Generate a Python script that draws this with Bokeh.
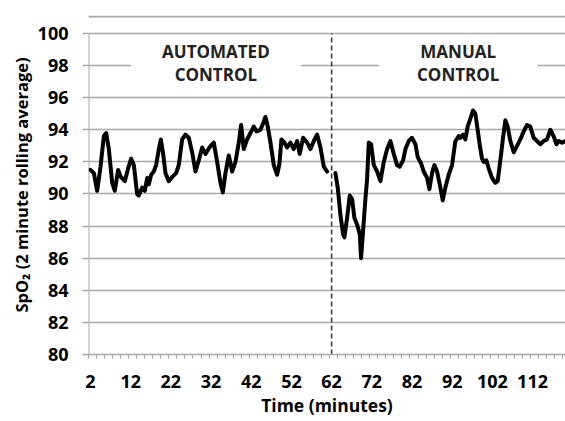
import numpy as np
from bokeh.plotting import figure
from bokeh.models import FixedTicker, Label, Span, Range1d
from bokeh.embed import file_html
from bokeh.resources import INLINE

# ---- data ----
# automated control phase
auto_time = [
    2.0, 2.83, 3.66, 4.49, 5.32, 5.90, 6.56, 7.39, 8.05, 8.88, 9.46, 10.54,
    11.37, 12.11, 12.78, 13.60, 14.02, 14.85, 15.51, 16.10, 16.51, 17.09,
    17.75, 18.33, 19.00, 19.50, 20.07, 20.66, 21.48, 22.48, 23.31, 23.97,
    24.80, 25.63, 26.46, 27.29, 28.12, 28.95, 29.78, 30.61, 31.60, 32.68,
    33.51, 34.34, 34.92, 35.58, 36.41, 37.24, 38.07, 38.90, 39.48, 40.14,
    40.97, 41.80, 42.63, 43.29, 44.29, 45.12, 45.53, 46.11, 46.78, 47.61,
    48.44, 49.02, 49.51, 50.26, 50.92, 51.75, 52.58, 53.41, 54.07, 54.90,
    55.90, 56.73, 57.56, 58.39, 59.22, 60.05, 60.88,
]
auto_spo2 = [
    91.5, 91.3, 90.2, 91.7, 93.6, 93.8, 92.8, 90.7, 90.2, 91.5, 91.1, 90.8,
    91.6, 92.2, 91.8, 90.0, 89.9, 90.4, 90.2, 91.0, 90.6, 91.2,
    91.4, 91.8, 92.8, 93.4, 92.5, 91.3, 90.8, 91.1, 91.3, 91.8,
    93.4, 93.7, 93.5, 92.6, 91.4, 92.1, 92.9, 92.5, 92.9, 93.2,
    92.0, 90.7, 90.1, 91.3, 92.4, 91.4, 92.0, 93.2, 94.3, 92.8,
    93.4, 93.8, 94.2, 93.9, 94.0, 94.5, 94.8, 94.2, 93.2, 91.8,
    91.2, 91.9, 93.4, 93.2, 92.9, 93.2, 92.8, 93.3, 92.5, 93.5,
    93.2, 92.8, 93.3, 93.7, 92.9, 91.7, 91.4,
]
# manual control phase
manual_time = [
    62.94, 63.52, 64.19, 64.85, 65.18, 65.85, 66.51, 67.09, 67.67, 68.34,
    69.00, 69.33, 69.83, 70.41, 70.82, 71.24, 71.82, 72.49, 73.32, 74.15,
    74.98, 75.81, 76.63, 77.46, 78.29, 78.96, 79.79, 80.37, 81.19, 82.02,
    82.85, 83.43, 84.26, 84.92, 85.75, 86.33, 86.99, 87.57, 88.24, 89.07,
    89.65, 90.31, 91.14, 91.97, 92.80, 93.63, 94.04, 94.70, 95.28, 95.86,
    96.52, 97.18, 97.76, 98.34, 98.84, 99.42, 99.84, 100.50, 101.08, 101.91,
    102.74, 103.32, 103.99, 104.65, 105.23, 105.81, 106.48, 107.31, 108.14,
    108.96, 109.79, 110.62, 111.45, 112.28, 113.11, 113.94, 114.77, 115.60,
    116.42, 117.25, 117.92, 118.50, 119.33, 120.16,
]
manual_spo2 = [
    91.3, 90.4, 88.7, 87.5, 87.3, 88.5, 89.9, 89.7, 88.5, 88.1,
    87.5, 86.0, 87.7, 89.7, 90.9, 93.2, 93.1, 91.8, 91.4, 90.8,
    92.0, 92.8, 93.3, 92.5, 91.8, 91.7, 92.1, 92.8, 93.3, 93.5,
    93.1, 92.3, 91.9, 91.4, 91.0, 90.3, 91.3, 91.8, 91.4, 90.4,
    89.6, 90.4, 91.2, 91.8, 93.3, 93.6, 93.5, 93.7, 93.4, 94.2,
    94.7, 95.2, 95.0, 94.0, 93.1, 92.2, 92.0, 92.1, 91.6, 91.0,
    90.7, 90.8, 92.1, 93.5, 94.6, 94.2, 93.3, 92.6, 93.0,
    93.4, 93.9, 94.3, 94.2, 93.5, 93.3, 93.1, 93.3, 93.4,
    94.0, 93.6, 93.1, 93.3, 93.2, 93.3,
]
x_tick_values = [2, 12, 22, 32, 42, 52, 62, 72, 82, 92, 102, 112]
x_tick_labels = ["2", "12", "22", "32", "42", "52", "62", "72", "82", "92", "102", "112"]
y_ticks = [80, 82, 84, 86, 88, 90, 92, 94, 96, 98, 100]
switch_minute = 62
phase_texts = ["AUTOMATED\nCONTROL", "MANUAL\nCONTROL"]
phase_x = [33.2, 93.5]
phase_pad = [31, 38]

# ---- layout / style ----
FONT = "Open Sans"
GRID = "#a8a8a8"
x_lo, x_hi = 1.5, 120.2
y_lo, y_hi = 80, 100
y_top = 101.12

p = figure(width=565, height=421, output_backend="svg", toolbar_location=None,
           x_range=Range1d(x_lo, x_hi), y_range=Range1d(y_lo, y_top),
           min_border_left=88, min_border_right=0, min_border_top=15,
           min_border_bottom=67)
p.outline_line_color = None
p.background_fill_color = "white"
p.border_fill_color = "white"

# grid
p.xgrid.visible = False
p.ygrid.ticker = FixedTicker(ticks=y_ticks)
p.ygrid.grid_line_color = GRID
p.ygrid.grid_line_width = 1.5

# x axis
p.xaxis.ticker = FixedTicker(ticks=x_tick_values,
                             minor_ticks=list(np.arange(x_lo, x_hi, 2.0)))
p.xaxis.major_label_overrides = {v: l for v, l in zip(x_tick_values, x_tick_labels)}
p.xaxis.major_tick_out = 0
p.xaxis.major_tick_in = 0
p.xaxis.minor_tick_out = 4
p.xaxis.minor_tick_in = 0
p.xaxis.minor_tick_line_color = GRID
p.xaxis.minor_tick_line_width = 1.2
p.xaxis.axis_line_color = GRID
p.xaxis.axis_line_width = 1.5
p.xaxis.major_label_standoff = 16
p.xaxis.major_label_text_font = FONT
p.xaxis.major_label_text_font_style = "bold"
p.xaxis.major_label_text_font_size = "18px"
p.xaxis.major_label_text_color = "black"
p.xaxis.axis_label = "Time (minutes)"
p.xaxis.axis_label_text_font = FONT
p.xaxis.axis_label_text_font_style = "bold"
p.xaxis.axis_label_text_font_size = "17.5px"
p.xaxis.axis_label_text_color = "black"
p.xaxis.axis_label_standoff = 2

# y axis
p.yaxis.ticker = FixedTicker(ticks=y_ticks, minor_ticks=[])
p.yaxis.major_tick_out = 6
p.yaxis.major_tick_in = 0
p.yaxis.major_tick_line_color = GRID
p.yaxis.major_tick_line_width = 1.5
p.yaxis.axis_line_color = None
p.yaxis.major_label_standoff = 14
p.yaxis.major_label_text_font = FONT
p.yaxis.major_label_text_font_style = "bold"
p.yaxis.major_label_text_font_size = "18px"
p.yaxis.major_label_text_color = "black"
p.yaxis.axis_label = "SpO\u2082 (2 minute rolling average)"
p.yaxis.axis_label_text_font = FONT
p.yaxis.axis_label_text_font_style = "bold"
p.yaxis.axis_label_text_font_size = "16.5px"
p.yaxis.axis_label_text_color = "black"
p.yaxis.axis_label_standoff = 2

# y axis line only over the value range, top rule line
p.segment(x0=[x_lo], y0=[y_lo], x1=[x_lo], y1=[y_hi], line_color=GRID, line_width=2)
p.add_layout(Span(location=y_top - 0.06, dimension="width",
                  line_color=GRID, line_width=2))

# switch dashed line
p.segment(x0=[switch_minute], y0=[y_lo], x1=[switch_minute], y1=[y_hi],
          line_color="#333333", line_width=1.5, line_dash="5 3")

# data lines
for t, v in ((auto_time, auto_spo2), (manual_time, manual_spo2)):
    p.line(t, v, line_color="black", line_width=4, line_join="round",
           line_cap="round")

# phase labels
for txt, xc, pad in zip(phase_texts, phase_x, phase_pad):
    p.add_layout(Label(x=xc, y=98.15, text=txt, text_align="center",
                       text_baseline="middle", text_font=FONT,
                       text_font_style="bold", text_font_size="17px",
                       text_color="#222222", text_line_height=1.0,
                       background_fill_color="white",
                       padding=dict(left=pad, right=pad, top=3, bottom=3)))

open("out.html", "w").write(file_html(p, INLINE))
